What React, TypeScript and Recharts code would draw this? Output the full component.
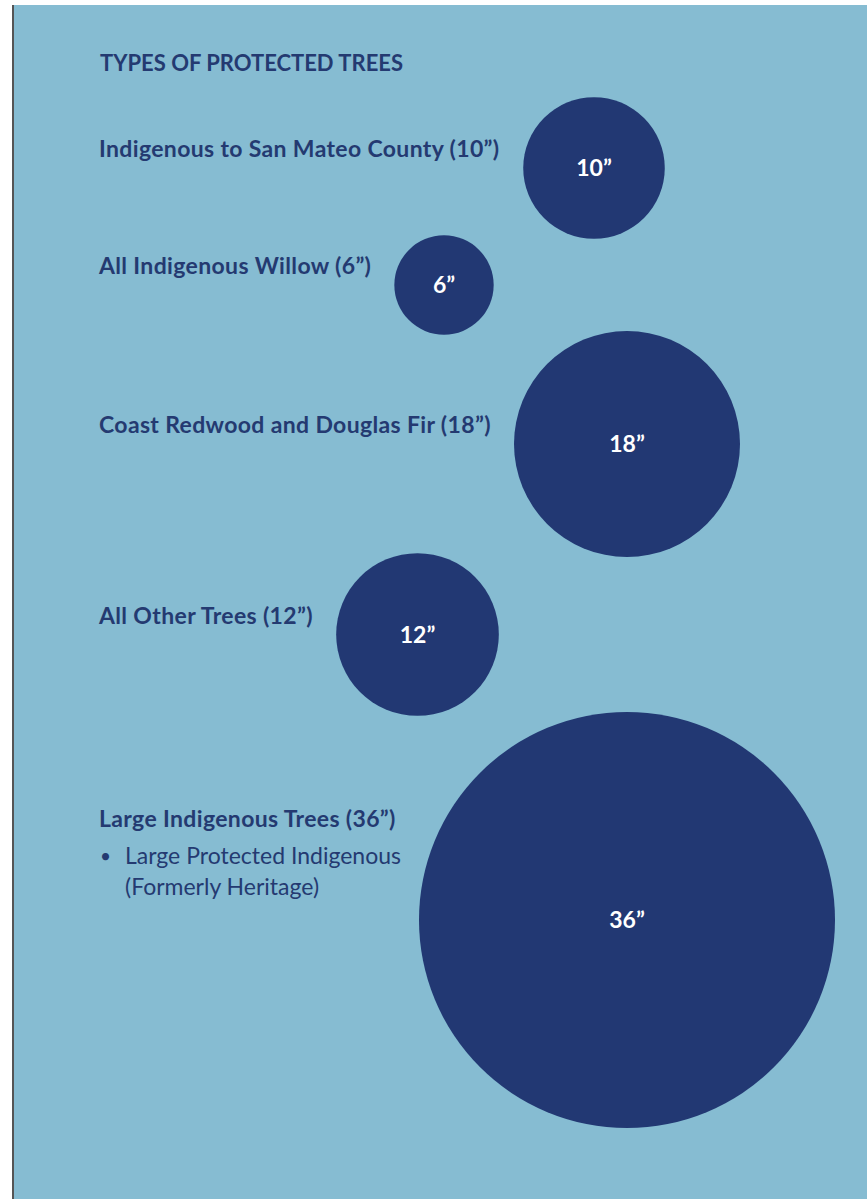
import { ScatterChart, Scatter, XAxis, YAxis, ZAxis, LabelList } from 'recharts';

// tree categories and their minimum protected trunk diameter (inches)
const categories = [
    'Indigenous to San Mateo County',
    'All Indigenous Willow',
    'Coast Redwood and Douglas Fir',
    'All Other Trees',
    'Large Indigenous Trees',
];
const diameters = [10, 6, 18, 12, 36];
const notes = [[], [], [], [], ['Large Protected Indigenous', '(Formerly Heritage)']];

const title = 'TYPES OF PROTECTED TREES';

const BG = '#86bcd2';
const NAVY = '#223873';
const TEXT = '#243a71';
const FONT = 'Lato, "Noto Sans", sans-serif';

// circle radius scale (px), shared by ZAxis and the row boxes
const Z_DOMAIN: [number, number] = [0, 36];
const Z_RANGE: [number, number] = [18, 208];
const radiusOf = (d: number) =>
    Z_RANGE[0] + ((d - Z_DOMAIN[0]) * (Z_RANGE[1] - Z_RANGE[0])) / (Z_DOMAIN[1] - Z_DOMAIN[0]);

const Disc = (props: any) => <circle cx={props.cx} cy={props.cy} r={props.size} fill={NAVY} />;

export default function App() {
    return (
        <div
            style={{
                position: 'absolute',
                left: 12,
                top: 5,
                width: 855,
                height: 1194,
                boxSizing: 'border-box',
                background: BG,
                borderLeft: '2px solid #555',
                fontFamily: FONT,
                color: TEXT,
                overflow: 'hidden',
            }}
        >
            <div style={{ position: 'absolute', left: 86, top: 45, fontSize: 22, fontWeight: 700, lineHeight: 1.2 }}>
                {title}
            </div>
            <div style={{ position: 'absolute', left: 85, top: 91 }}>
                {categories.map((name, i) => {
                    const d = diameters[i];
                    const box = Math.ceil(2 * radiusOf(d)) + 2;
                    const hasNotes = notes[i].length > 0;
                    return (
                        <div
                            key={name}
                            style={{
                                display: 'flex',
                                alignItems: 'center',
                                height: box,
                                marginTop: i === 0 ? 0 : -6,
                            }}
                        >
                            <div
                                style={{
                                    position: 'relative',
                                    fontSize: 23,
                                    fontWeight: 700,
                                    letterSpacing: 0.35,
                                    lineHeight: 1.2,
                                    whiteSpace: 'nowrap',
                                    transform: `translateY(${hasNotes ? -101 : -19}px)`,
                                }}
                            >
                                {`${name} (${d}”)`}
                                {hasNotes && (
                                    <div
                                        style={{
                                            position: 'absolute',
                                            top: '100%',
                                            left: 0,
                                            marginTop: 7,
                                            fontWeight: 400,
                                            letterSpacing: 0,
                                            lineHeight: '31px',
                                            display: 'flex',
                                        }}
                                    >
                                        <span style={{ width: 25, paddingLeft: 1, fontSize: 19 }}>•</span>
                                        <span>
                                            {notes[i].map((line, k) => (
                                                <div key={k}>{line}</div>
                                            ))}
                                        </span>
                                    </div>
                                )}
                            </div>
                            <div style={{ marginLeft: 22 }}>
                                <ScatterChart width={box} height={box} margin={{ top: 0, right: 0, bottom: 0, left: 0 }}>
                                    <XAxis dataKey="name" type="category" hide />
                                    <YAxis dataKey="name" type="category" hide />
                                    <ZAxis dataKey="diameter" type="number" domain={Z_DOMAIN} range={Z_RANGE} />
                                    <Scatter data={[{ name, diameter: d }]} shape={Disc} isAnimationActive={false}>
                                        <LabelList
                                            dataKey="diameter"
                                            position="center"
                                            formatter={(v: any) => `${v}”`}
                                            fill="#ffffff"
                                            style={{ fontFamily: FONT, fontSize: 23, fontWeight: 700 }}
                                        />
                                    </Scatter>
                                </ScatterChart>
                            </div>
                        </div>
                    );
                })}
            </div>
        </div>
    );
}
